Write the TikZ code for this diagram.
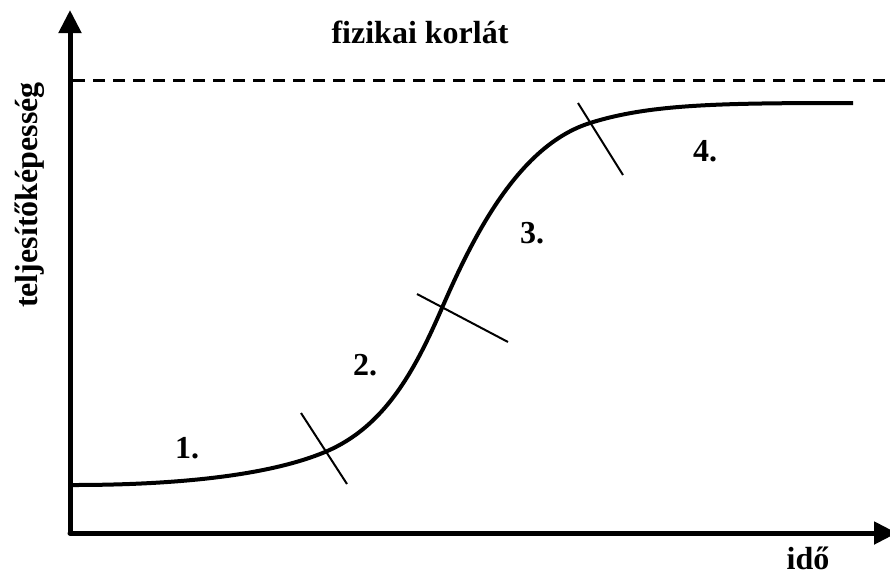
\documentclass[tikz,border=0pt]{standalone}
\usepackage{fontspec}
\setmainfont{Liberation Serif}
\usepackage{tikz}
\usetikzlibrary{arrows.meta,positioning}

\tikzset{
  axis/.style={line width=2.5pt,line cap=round,-{Triangle[length=11.5pt,width=11pt]}},
  lbl/.style={font=\bfseries\fontsize{16}{19}\selectfont,inner sep=0pt},
  phase/.style={line width=1pt},
}

\begin{document}
\begin{tikzpicture}[x=0.5pt,y=-0.5pt]
\useasboundingbox (0,0) rectangle (890,575);
\coordinate (o) at (70,533);
\coordinate (ytop) at (70,10);
\coordinate (xend) at (897,533);
\draw[axis] (o)--(ytop);
\draw[axis] (o)--(xend);
% fizikai korlat
\coordinate (lim1) at (73,80);
\coordinate (lim2) at (890,80);
\draw[line width=1.5pt,dash pattern=on 6pt off 4pt] (lim1)--(lim2);
% S-gorbe
\draw[line width=2pt] (73,485) .. controls (180,485) and (270,475) .. (325,452)
  .. controls (385,427) and (415,370) .. (442,308)
  .. controls (475,232) and (520,145) .. (590,123)
  .. controls (650,104) and (720,103) .. (853,103);
\draw[phase] (301,413)--(347,484);
\draw[phase] (417,294)--(508,342);
\draw[phase] (578,103)--(623,175);
\node[lbl] (p1) at (187,448) {1.};
\node[lbl] (p2) at (365,365) {2.};
\node[lbl] (p3) at (532,233) {3.};
\node[lbl] (p4) at (705,151) {4.};
\node[lbl,anchor=base] (fk) at (420,43) {fizikai korlát};
\node[lbl,anchor=base] (ido) at (808,569) {idő};
\node[lbl,anchor=base,rotate=90] (tk) at (37,195) {teljesítőképesség};
\end{tikzpicture}
\end{document}
